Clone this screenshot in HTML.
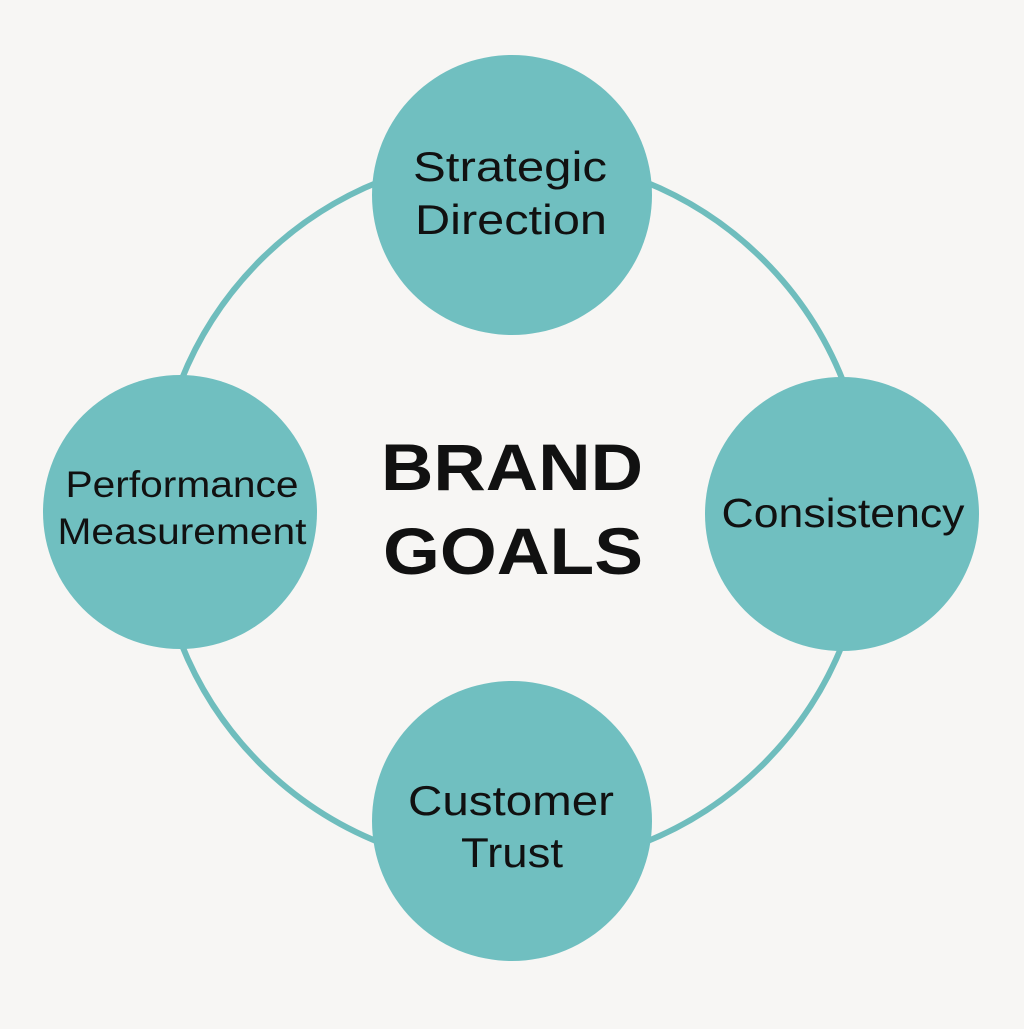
<!DOCTYPE html>
<html><head><style>
html,body{margin:0;padding:0;background:#f7f6f4;}
</style></head><body>
<svg width="1024" height="1024" viewBox="0 0 1024 1024" xmlns="http://www.w3.org/2000/svg">
<rect width="1024" height="1024" fill="#f7f6f4"/>
<circle cx="512" cy="512" r="356" fill="none" stroke="#6fbdbd" stroke-width="6"/>
<g fill="#70bfc0">
<circle cx="512" cy="195" r="140"/>
<circle cx="842" cy="514" r="137"/>
<circle cx="512" cy="821" r="140"/>
<circle cx="180" cy="512" r="137"/>
</g>
<g font-family="Liberation Sans, sans-serif" fill="#111" text-anchor="middle" lengthAdjust="spacingAndGlyphs">
<text x="510" y="181" font-size="42" textLength="194" lengthAdjust="spacingAndGlyphs">Strategic</text>
<text x="511" y="234" font-size="42" textLength="192" lengthAdjust="spacingAndGlyphs">Direction</text>
<text x="843" y="527" font-size="41" textLength="243" lengthAdjust="spacingAndGlyphs">Consistency</text>
<text x="511" y="815" font-size="42" textLength="206" lengthAdjust="spacingAndGlyphs">Customer</text>
<text x="512" y="867" font-size="42" textLength="102" lengthAdjust="spacingAndGlyphs">Trust</text>
<text x="182" y="497" font-size="37" textLength="233" lengthAdjust="spacingAndGlyphs">Performance</text>
<text x="182" y="544" font-size="37" textLength="249" lengthAdjust="spacingAndGlyphs">Measurement</text>
<text x="512" y="490" font-size="66" font-weight="bold" textLength="262" lengthAdjust="spacingAndGlyphs">BRAND</text>
<text x="513" y="574" font-size="66" font-weight="bold" textLength="260" lengthAdjust="spacingAndGlyphs">GOALS</text>
</g>
</svg>
</body></html>
